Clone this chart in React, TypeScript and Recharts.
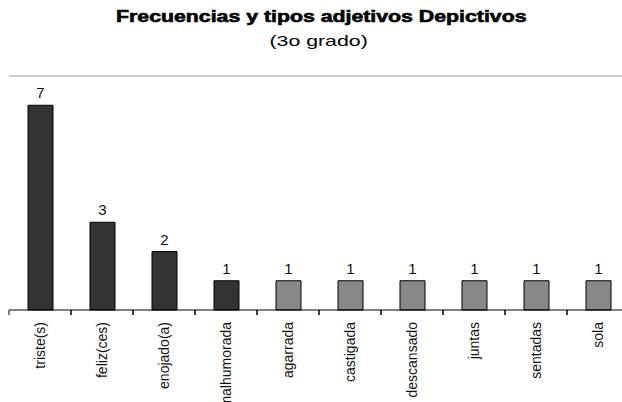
import { BarChart, Bar, XAxis, YAxis, Cell, LabelList, ReferenceLine } from "recharts";

const adjectives = [
  "triste(s)",
  "feliz(ces)",
  "enojado(a)",
  "malhumorada",
  "agarrada",
  "castigada",
  "descansado",
  "juntas",
  "sentadas",
  "sola",
];
const frequencies = [7, 3, 2, 1, 1, 1, 1, 1, 1, 1];
const yTicks = [0, 8];

const data = adjectives.map((name, i) => ({ name, value: frequencies[i] }));

const CHART_W = 640;
const MARGIN_L = 9;
const MARGIN_R = 11;
const BAND = (CHART_W - MARGIN_L - MARGIN_R) / adjectives.length;
const DARK_BARS = 4;
const FONT = "'Liberation Sans', Arial, sans-serif";

function XTick(props: any) {
  const { x, y, payload } = props;
  const left = x - BAND / 2;
  return (
    <g>
      <line x1={left} x2={left} y1={y} y2={y + 5} stroke="#000" />
      <line x1={left + BAND} x2={left + BAND} y1={y} y2={y + 5} stroke="#000" />
      <text
        transform={`translate(${x},${y + 12}) rotate(-90)`}
        textAnchor="end"
        dy="0.35em"
        fontSize={14}
        fontFamily={FONT}
        fill="#111"
      >
        {payload.value}
      </text>
    </g>
  );
}

export default function App() {
  return (
    <div
      style={{
        position: "fixed",
        left: 0,
        top: 0,
        width: 622,
        height: 402,
        overflow: "hidden",
        background: "#fff",
      }}
    >
      <div
        style={{
          position: "absolute",
          top: 8,
          left: 0,
          width: 642,
          textAlign: "center",
          fontFamily: FONT,
          fontWeight: "bold",
          fontSize: 16,
          color: "#000",
          WebkitTextStroke: "0.6px #000",
        }}
      >
        <span style={{ display: "inline-block", transform: "scaleX(1.33)" }}>
          Frecuencias y tipos adjetivos Depictivos
        </span>
      </div>
      <div
        style={{
          position: "absolute",
          top: 32,
          left: 0,
          width: 638,
          textAlign: "center",
          fontFamily: FONT,
          fontSize: 15,
          color: "#000",
        }}
      >
        <span style={{ display: "inline-block", transform: "scaleX(1.42)" }}>(3o grado)</span>
      </div>
      <div style={{ position: "absolute", left: 0, top: 0 }}>
        <BarChart
          width={CHART_W}
          height={402}
          data={data}
          margin={{ top: 76, right: MARGIN_R, left: MARGIN_L, bottom: 0 }}
          barCategoryGap={0}
        >
          <XAxis
            dataKey="name"
            interval={0}
            height={92}
            tickLine={false}
            tickSize={0}
            tickMargin={0}
            axisLine={{ stroke: "#000" }}
            tick={<XTick />}
          />
          <YAxis
            width={0}
            domain={[0, 8]}
            ticks={yTicks}
            tick={false}
            tickLine={false}
            axisLine={{ stroke: "#999" }}
          />
          <ReferenceLine y={8} stroke="#999" />
          <Bar dataKey="value" barSize={25} stroke="#000" strokeWidth={1} isAnimationActive={false}>
            {data.map((d, i) => (
              <Cell key={d.name} fill={i < DARK_BARS ? "#333333" : "#888888"} />
            ))}
            <LabelList
              dataKey="value"
              position="top"
              offset={7}
              fill="#111"
              fontSize={15}
              fontFamily={FONT}
            />
          </Bar>
        </BarChart>
      </div>
    </div>
  );
}
